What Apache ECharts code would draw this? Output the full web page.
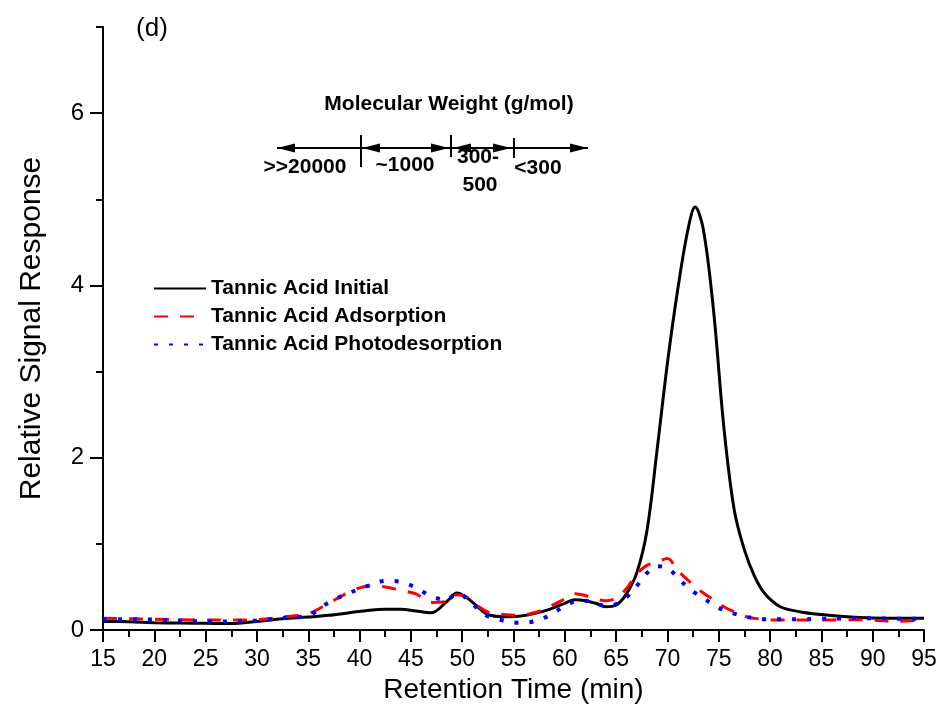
<!DOCTYPE html>
<html>
<head>
<meta charset="utf-8">
<script src="https://cdn.jsdelivr.net/npm/echarts@6/dist/echarts.min.js"></script>
<style>
  html, body { margin: 0; padding: 0; background: #fff; }
  #main { width: 942px; height: 724px; }
</style>
</head>
<body>
<div id="main"></div>
<script>
// retention time (min)
const times = [15, 17.5, 20, 22.5, 25, 27.5, 30, 32.5, 35,
  37, 39, 41, 42.5, 44, 45.5, 47, 48.5, 49.5, 50.5,
  51.5, 52.5, 54, 55.5, 57, 58.5, 60, 61, 62, 63,
  64, 65, 66, 67, 68, 69, 70, 71, 72, 72.7,
  73.5, 74.5, 75.5, 76.5, 77.5, 78.5, 79.5, 81, 83, 85,
  87.5, 90, 92.5, 95]

// relative signal response
const initial = [0.10, 0.095, 0.085, 0.08, 0.078, 0.075, 0.10, 0.13, 0.15,
  0.17, 0.20, 0.23, 0.24, 0.24, 0.22, 0.20, 0.33, 0.43, 0.37,
  0.27, 0.18, 0.155, 0.16, 0.19, 0.24, 0.31, 0.35, 0.34, 0.31,
  0.27, 0.29, 0.42, 0.66, 1.15, 2.1, 3.1, 3.95, 4.65, 4.91,
  4.65, 3.7, 2.35, 1.4, 0.93, 0.62, 0.42, 0.27, 0.21, 0.18,
  0.155, 0.14, 0.135, 0.135]
const adsorption = [0.135, 0.13, 0.125, 0.12, 0.115, 0.115, 0.12, 0.15, 0.19,
  0.31, 0.44, 0.51, 0.50, 0.46, 0.42, 0.32, 0.33, 0.41, 0.38,
  0.28, 0.21, 0.18, 0.17, 0.20, 0.27, 0.36, 0.42, 0.40, 0.36,
  0.34, 0.37, 0.48, 0.65, 0.75, 0.79, 0.83, 0.69, 0.58, 0.50,
  0.43, 0.35, 0.27, 0.21, 0.16, 0.135, 0.12, 0.115, 0.115, 0.115,
  0.12, 0.115, 0.10, 0.12]
const photodesorption = [0.125, 0.125, 0.12, 0.11, 0.10, 0.10, 0.11, 0.14, 0.17,
  0.32, 0.43, 0.52, 0.57, 0.56, 0.49, 0.39, 0.35, 0.43, 0.36,
  0.25, 0.16, 0.11, 0.085, 0.10, 0.17, 0.28, 0.33, 0.34, 0.31,
  0.28, 0.30, 0.38, 0.51, 0.66, 0.74, 0.72, 0.61, 0.49, 0.43,
  0.37, 0.29, 0.23, 0.19, 0.155, 0.14, 0.125, 0.125, 0.125, 0.13,
  0.135, 0.135, 0.13, 0.13]

const seriesNames = ['Tannic Acid Initial', 'Tannic Acid Adsorption', 'Tannic Acid Photodesorption']
const FONT = 'Liberation Sans, Arial, Helvetica, sans-serif'

const chart = echarts.init(document.getElementById('main'))

// pairs for the value x axis
const toPairs = vals => times.map((t, i) => [t, vals[i]])

// arrow pieces for the molecular weight scale
const arrowY = 148
function head (tipX, dir) {
  // dir -1 points left, 1 points right
  return {
    type: 'polygon',
    shape: { points: [[tipX, arrowY], [tipX - dir * 18, arrowY - 4.5], [tipX - dir * 18, arrowY + 4.5]] },
    style: { fill: '#000' }
  }
}
function hline (x1, x2) {
  return { type: 'line', shape: { x1: x1, y1: arrowY, x2: x2, y2: arrowY }, style: { stroke: '#000', lineWidth: 2 } }
}
function vline (x, y1, y2) {
  return { type: 'line', shape: { x1: x, y1: y1, x2: x, y2: y2 }, style: { stroke: '#000', lineWidth: 2 } }
}
function label (text, x, y, size, weight) {
  return {
    type: 'text', x: x, y: y,
    style: { text: text, fill: '#000', font: (weight || 'bold') + ' ' + size + 'px ' + FONT, align: 'center', verticalAlign: 'middle' }
  }
}

const option = {
  animation: false,
  backgroundColor: '#fff',
  grid: [
    { left: 103, right: 18, top: 27, bottom: 94 },
    { left: 103, right: 18, top: 113, bottom: 94 }
  ],
  legend: {
    orient: 'vertical',
    left: 153,
    top: 278,
    padding: 0,
    itemWidth: 52,
    itemHeight: 14,
    itemGap: 7,
    data: seriesNames,
    itemStyle: { opacity: 0 },
    textStyle: { fontFamily: FONT, fontWeight: 'bold', fontSize: 21, lineHeight: 21, color: '#000' }
  },
  xAxis: [
    {
      type: 'value', gridIndex: 0, min: 15, max: 95, interval: 5,
      name: 'Retention Time (min)', nameLocation: 'middle', nameGap: 30,
      nameTextStyle: { fontFamily: FONT, fontSize: 28, color: '#000' },
      axisLine: { lineStyle: { color: '#000', width: 2 } },
      axisTick: { inside: false, length: 12, lineStyle: { color: '#000', width: 2 } },
      minorTick: { show: true, splitNumber: 2, length: 7, lineStyle: { color: '#000', width: 2 } },
      axisLabel: { margin: 18, fontFamily: FONT, fontSize: 23, color: '#000' },
      splitLine: { show: false }
    },
    { type: 'value', gridIndex: 1, min: 15, max: 95, show: false }
  ],
  yAxis: [
    {
      type: 'value', gridIndex: 0, min: 0, max: 7, interval: 1,
      name: 'Relative Signal Response', nameLocation: 'middle', nameGap: 56,
      nameTextStyle: { fontFamily: FONT, fontSize: 30, color: '#000' },
      axisLine: { show: true, lineStyle: { color: '#000', width: 2 } },
      axisTick: { show: true, inside: false, length: 7, lineStyle: { color: '#000', width: 2 } },
      axisLabel: {
        margin: 19, fontFamily: FONT, fontSize: 24, color: '#000',
        formatter: v => (v % 2 === 0 ? String(v) : '')
      },
      splitLine: { show: false }
    },
    {
      // longer major ticks at 0, 2, 4, 6
      type: 'value', gridIndex: 1, min: 0, max: 6, interval: 2,
      axisLine: { show: false },
      axisTick: { show: true, inside: false, length: 13, lineStyle: { color: '#000', width: 2 } },
      axisLabel: { show: false },
      splitLine: { show: false }
    }
  ],
  series: [
    {
      name: seriesNames[0], type: 'line', data: toPairs(initial),
      symbol: 'none', smooth: 0.35, color: '#000',
      lineStyle: { color: '#000', width: 3 }
    },
    {
      name: seriesNames[1], type: 'line', data: toPairs(adsorption),
      symbol: 'none', smooth: 0.35, color: '#ff0000',
      lineStyle: { color: '#ff0000', width: 3, type: [14, 12] }
    },
    {
      name: seriesNames[2], type: 'line', data: toPairs(photodesorption),
      symbol: 'none', smooth: 0.35, color: '#0000ff',
      lineStyle: { color: '#0000ff', width: 4, type: [4, 11] }
    }
  ],
  graphic: [
    label('(d)', 152, 29, 26, 'normal'),
    label('Molecular Weight (g/mol)', 449, 104, 21),
    // >>20000
    hline(277, 361), head(277, -1),
    vline(361, 135, 167),
    // ~1000
    hline(361, 450), head(362, -1), head(449, 1),
    vline(451, 135, 157),
    // 300-500
    hline(451, 513), head(453, -1), head(511, 1),
    vline(514, 138, 158),
    // <300
    hline(514, 588), head(588, 1),
    label('>>20000', 305, 167, 21),
    label('~1000', 405, 165, 21),
    label('300-', 478, 157, 21),
    label('500', 480, 185, 21),
    label('<300', 538, 168, 21)
  ]
}

chart.setOption(option)
</script>
</body>
</html>
